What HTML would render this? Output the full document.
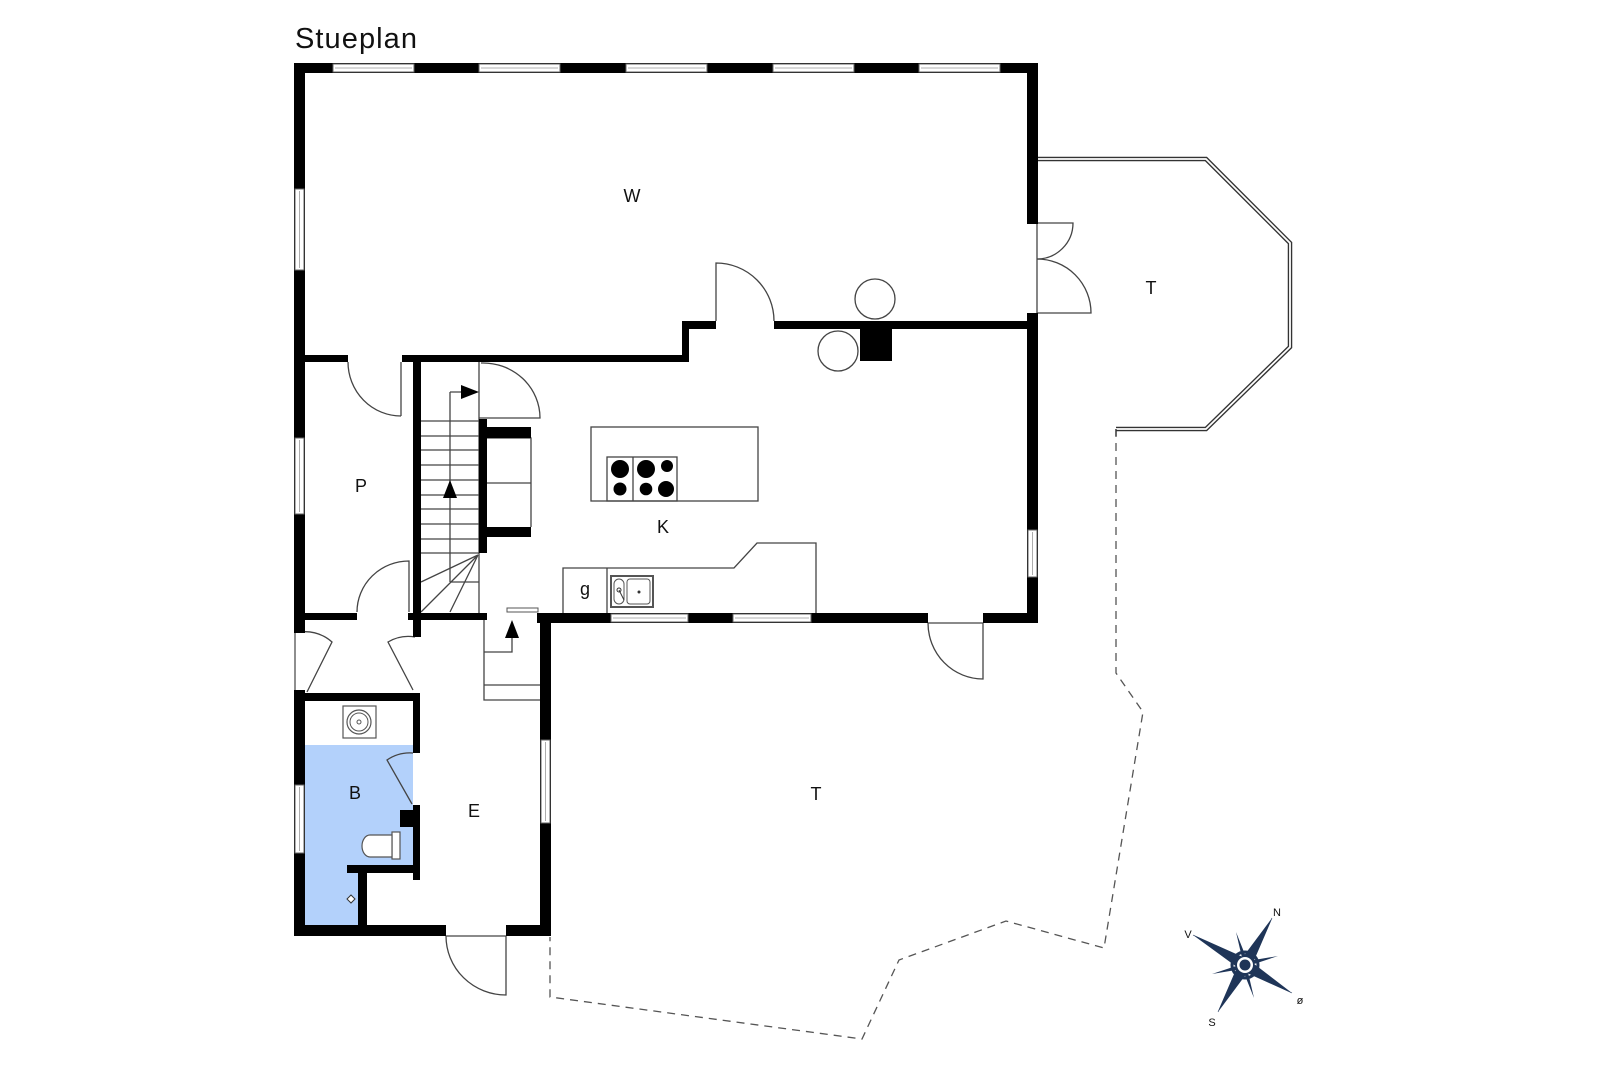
<!DOCTYPE html>
<html><head><meta charset="utf-8"><style>
html,body{margin:0;padding:0;background:#fff;}
svg{display:block;}
text{font-family:"Liberation Sans",sans-serif;fill:#111;}
</style></head><body>
<svg width="1600" height="1067" viewBox="0 0 1600 1067" xmlns="http://www.w3.org/2000/svg">
<path d="M305,745 H413 V865 H358 V925 H305 Z" fill="#b3d1fb"/>

<g fill="none" stroke="#555" stroke-width="1.3" stroke-dasharray="8,6">
<path d="M1116,429 V673 L1143,712 L1104,948 L1006,921 L899,960 L862,1039 L550,997 V937"/>
</g>
<path d="M1037,159 H1206 L1290,243 V347 L1206,429 H1116" fill="none" stroke="#333" stroke-width="4.5"/>
<path d="M1037,159 H1206 L1290,243 V347 L1206,429 H1116" fill="none" stroke="#fff" stroke-width="1.8"/>
<line x1="1116" y1="429" x2="1116" y2="436" stroke="#333" stroke-width="1.3"/>

<g fill="none" stroke="#444" stroke-width="1.3">
<path d="M716,321 V263 A58,58 0 0 1 774,321"/>
<path d="M401,416 V362 M348,362 A53,54 0 0 0 401,416"/>
<path d="M409,612 V561 A52,51 0 0 0 357,612"/>
<path d="M1037,223 V313 M1037,223 H1073 A36,36 0 0 1 1037,259 A54,54 0 0 1 1091,313 H1037"/>
<path d="M928,623 A55,56 0 0 0 983,679 V623 M928,623 H983"/>
<path d="M446,936 A60,59 0 0 0 506,995 V936 M446,936 H506"/>
<path d="M479,362 V613 M450,392 H461 M450,392 V582 M450,582 H479"/>
<path d="M421,421 H479 M421,436 H479 M421,450 H479 M421,465 H479 M421,480 H479 M421,495 H479 M421,509 H479 M421,524 H479 M421,539 H479 M421,553 H479"/>
<path d="M478,555 L421,582 M478,555 L421,612 M478,555 L450,612"/>
<path d="M481,363 A57,55 0 0 1 540,418 H479"/>
<path d="M487,438 H531 V527 M487,483 H531"/>
<rect x="591" y="427" width="167" height="74"/>
<rect x="607" y="457" width="70" height="44"/>
<path d="M633,457 V501"/>
<path d="M563,613 V568 H734 L757,543 H816 V613 M607,568 V613"/>
<path d="M295,633 A40,40 0 0 1 332,642 L307,692 M415,637 A40,40 0 0 0 388,642 L413,690"/>
<path d="M413,753 A40,40 0 0 0 387,760 L412,804"/>
<path d="M484,620 V700 H540 M484,685 H540 M484,652 H512 V638"/>
</g>
<rect x="507" y="608" width="31" height="4" fill="#fff" stroke="#555" stroke-width="1"/>

<g fill="#000">
<circle cx="620" cy="469" r="9"/><circle cx="646" cy="469" r="9"/><circle cx="667" cy="466" r="6"/>
<circle cx="620" cy="489" r="6.5"/><circle cx="646" cy="489" r="6.3"/><circle cx="666" cy="489" r="8"/>
</g>
<rect x="611" y="576" width="42" height="31" fill="#fff" stroke="#555" stroke-width="2"/>
<rect x="614" y="579" width="10" height="25" rx="5" fill="none" stroke="#555" stroke-width="1"/>
<rect x="627" y="579" width="23" height="25" rx="3" fill="none" stroke="#555" stroke-width="1"/>
<circle cx="619" cy="590" r="2" fill="none" stroke="#333"/><circle cx="639" cy="592" r="1.5" fill="#333"/>
<line x1="619" y1="590" x2="624" y2="600" stroke="#333"/>

<circle cx="875" cy="299" r="20" fill="none" stroke="#444" stroke-width="1.3"/>
<circle cx="838" cy="351" r="20" fill="none" stroke="#444" stroke-width="1.3"/>

<polygon points="479,392 461,385 461,399" fill="#000"/>
<polygon points="450,480 443,498 457,498" fill="#000"/>
<polygon points="512,620 505,638 519,638" fill="#000"/>

<rect x="343" y="706" width="33" height="32" fill="#fff" stroke="#555" stroke-width="1.2"/>
<circle cx="359" cy="722" r="12" fill="none" stroke="#555" stroke-width="1.2"/>
<circle cx="359" cy="722" r="9" fill="none" stroke="#555" stroke-width="1"/>
<circle cx="359" cy="722" r="2" fill="none" stroke="#555"/>
<rect x="392" y="832" width="8" height="27" fill="#fff" stroke="#555" stroke-width="1.2"/>
<path d="M392,835 H370 A8,11 0 0 0 370,857 H392 Z" fill="#fff" stroke="#555" stroke-width="1.2"/>
<path d="M351,895 L355,899 L351,903 L347,899 Z" fill="#fff" stroke="#333" stroke-width="1"/>

<g fill="#000">
<rect x="294" y="63" width="744" height="10"/>
<rect x="294" y="63" width="11" height="873"/>
<rect x="1027" y="63" width="11" height="161"/>
<rect x="1027" y="313" width="11" height="310"/>
<rect x="774" y="321" width="264" height="8"/>
<rect x="682" y="321" width="34" height="8"/>
<rect x="682" y="321" width="7" height="41"/>
<rect x="402" y="355" width="287" height="7"/>
<rect x="305" y="355" width="43" height="7"/>
<rect x="860" y="329" width="32" height="32"/>
<rect x="413" y="355" width="8" height="282"/>
<rect x="479" y="419" width="8" height="134"/>
<rect x="487" y="427" width="44" height="11"/>
<rect x="487" y="527" width="44" height="10"/>
<rect x="537" y="613" width="391" height="10"/>
<rect x="983" y="613" width="55" height="10"/>
<rect x="540" y="613" width="11" height="323"/>
<rect x="294" y="613" width="63" height="7"/>
<rect x="408" y="613" width="79" height="7"/>
<rect x="294" y="693" width="126" height="8"/>
<rect x="413" y="693" width="7" height="60"/>
<rect x="413" y="805" width="7" height="75"/>
<rect x="400" y="810" width="20" height="17"/>
<rect x="347" y="865" width="73" height="8"/>
<rect x="358" y="865" width="9" height="71"/>
<rect x="294" y="925" width="152" height="11"/>
<rect x="506" y="925" width="45" height="11"/>
</g>
<rect x="294" y="633" width="11" height="57" fill="#fff"/>
<line x1="295" y1="633" x2="295" y2="690" stroke="#444" stroke-width="1.2"/>

<g fill="#fff" stroke="#666" stroke-width="1">
<rect x="333" y="64" width="81" height="8"/><rect x="479" y="64" width="81" height="8"/>
<rect x="626" y="64" width="81" height="8"/><rect x="773" y="64" width="81" height="8"/>
<rect x="919" y="64" width="81" height="8"/>
<rect x="295" y="189" width="9" height="81"/><rect x="295" y="438" width="9" height="76"/>
<rect x="295" y="785" width="9" height="68"/>
<rect x="1028" y="530" width="9" height="47"/>
<rect x="611" y="614" width="77" height="8"/><rect x="733" y="614" width="78" height="8"/>
<rect x="541" y="740" width="9" height="83"/>
</g>
<g stroke="#999" stroke-width="0.8">
<path d="M335,68 H412 M481,68 H558 M628,68 H705 M775,68 H852 M921,68 H998"/>
<path d="M299.5,191 V268 M299.5,440 V512 M299.5,787 V851 M1032.5,532 V575 M545.5,742 V821"/>
<path d="M613,618 H686 M735,618 H809"/>
</g>

<!-- compass -->
<g>
<!-- minor arms -->
<g fill="#1f3558">
<polygon points="1236,932 1243,962 1248,962"/>
<polygon points="1254,998 1247,968 1242,968"/>
<polygon points="1212,974 1242,964 1242,969"/>
<polygon points="1278,956 1248,961 1248,966"/>
</g>
<circle cx="1245" cy="965" r="13" fill="none" stroke="#1f3558" stroke-width="3"/>
<!-- main arms: N -->
<polygon points="1272,918 1240,961 1250,969" fill="#1f3558"/>
<polygon points="1272,918 1250,969 1253,962" fill="#fff" stroke="#1f3558" stroke-width="0.6"/>
<!-- S -->
<polygon points="1218,1012 1250,969 1240,961" fill="#1f3558"/>
<polygon points="1218,1012 1240,961 1237,968" fill="#fff" stroke="#1f3558" stroke-width="0.6"/>
<!-- V -->
<polygon points="1193,935 1241,970 1249,960" fill="#1f3558"/>
<polygon points="1193,935 1249,960 1242,957" fill="#c8d0dc" stroke="#1f3558" stroke-width="0.6"/>
<!-- ø -->
<polygon points="1292,993 1249,960 1241,970" fill="#1f3558"/>
<polygon points="1292,993 1241,970 1248,973" fill="#fff" stroke="#1f3558" stroke-width="0.6"/>
<circle cx="1245" cy="965" r="8" fill="#fff"/>
<circle cx="1245" cy="965" r="5.5" fill="#1f3558"/>
<text x="1277" y="916" font-size="11" text-anchor="middle">N</text>
<text x="1188" y="938" font-size="11" text-anchor="middle">V</text>
<text x="1300" y="1004" font-size="11" text-anchor="middle">ø</text>
<text x="1212" y="1026" font-size="11" text-anchor="middle">S</text>
</g>

<text x="295" y="48" font-size="29" textLength="122">Stueplan</text>
<g font-size="18" text-anchor="middle">
<text x="632" y="202">W</text>
<text x="1151" y="294">T</text>
<text x="361" y="492">P</text>
<text x="663" y="533">K</text>
<text x="585" y="595">g</text>
<text x="355" y="799">B</text>
<text x="474" y="817">E</text>
<text x="816" y="800">T</text>
</g>
</svg>
</body></html>
